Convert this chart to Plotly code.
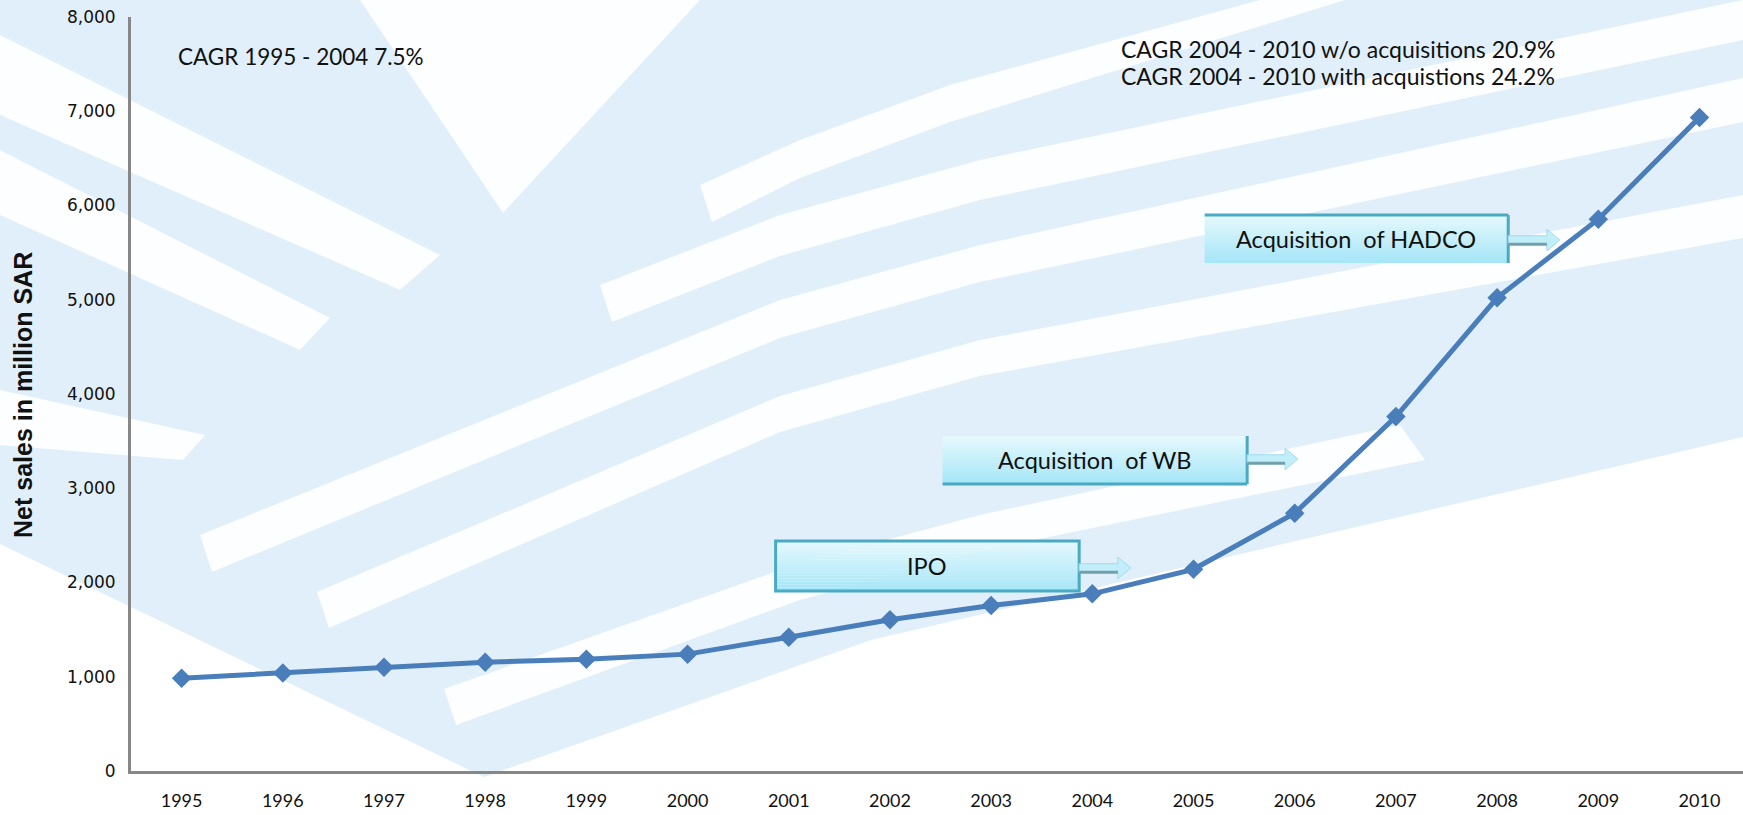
import plotly.graph_objects as go

# ---- data -------------------------------------------------------------
years = ["1995", "1996", "1997", "1998", "1999", "2000", "2001", "2002",
         "2003", "2004", "2005", "2006", "2007", "2008", "2009", "2010"]
net_sales = [985, 1040, 1100, 1155, 1185, 1240, 1420, 1605,
             1755, 1880, 2140, 2735, 3760, 5020, 5855, 6935]
y_ticks = [0, 1000, 2000, 3000, 4000, 5000, 6000, 7000, 8000]
y_tick_text = ["0", "1,000", "2,000", "3,000", "4,000", "5,000", "6,000", "7,000", "8,000"]

cagr_left = "CAGR 1995 - 2004 7.5%"
cagr_right = ["CAGR 2004 - 2010 w/o acquisitions 20.9%",
              "CAGR 2004 - 2010 with acquistions 24.2%"]

# callouts: label, box x-range (category index), box y-range (value), arrow tip (index, value)
callouts = [
    ("IPO", (5.87, 8.87), (1910, 2440), (9.38, 2154), "all"),
    ("Acquisition  of WB", (7.52, 10.53), (3045, 3554), (11.03, 3310), "rb"),
    ("Acquisition  of HADCO", (10.11, 13.11), (5390, 5899), (13.62, 5634), "tr"),
]

# ---- figure geometry ---------------------------------------------------
W, H = 1743, 815
ML, MR, MT, MB = 131, 0, 17, 44
PW, PH = W - ML - MR, H - MT - MB


def px(x, y):
    """pixel position -> paper coordinates"""
    return (x - ML) / PW, (H - MB - y) / PH


def poly(points):
    parts = []
    for i, (x, y) in enumerate(points):
        u, v = px(x, y)
        parts.append(("M" if i == 0 else "L") + f"{u:.5f},{v:.5f}")
    return " ".join(parts) + " Z"


fig = go.Figure()

shapes = []

# ---- watermark background ------------------------------------------------
BLUE = "#e0eff9"
WHITE = "#fcfeff"
shapes.append(dict(type="path", xref="paper", yref="paper", layer="below",
                   path=poly([(0, 0), (1743, 0), (1743, 437), (871, 640),
                              (484, 777), (131, 607), (0, 544)]),
                   fillcolor=BLUE, line=dict(width=0)))
white_bands = [
    [(360, 0), (700, 0), (503, 213)],
    [(0, 35), (0, 115), (400, 290), (440, 255)],
    [(0, 150), (0, 215), (300, 350), (330, 318)],
    [(0, 390), (0, 445), (183, 460), (205, 435)],
    [(700, 185), (800, 140), (950, 85), (1260, 0), (1345, 0), (950, 122), (800, 178), (712, 222)],
    [(600, 285), (780, 215), (980, 160), (1743, 0), (1743, 40), (980, 200), (780, 256), (612, 322)],
    [(200, 535), (780, 300), (980, 245), (1743, 78), (1743, 122), (980, 282), (780, 338), (212, 572)],
    [(317, 592), (780, 396), (980, 340), (1743, 195), (1743, 238), (980, 376), (780, 432), (329, 628)],
    [(444, 689), (800, 563), (980, 515), (1400, 425), (1425, 460), (980, 551), (800, 600), (456, 725)],
]
for b in white_bands:
    shapes.append(dict(type="path", xref="paper", yref="paper", layer="below",
                       path=poly(b), fillcolor=WHITE, line=dict(width=0)))

# ---- vertical divider at 2004 ---------------------------------------------
shapes.append(dict(type="line", xref="x", yref="paper", x0="2004", x1="2004",
                   y0=-0.006, y1=0.95, line=dict(color="#c3d6ec", width=1),
                   layer="below"))

# ---- callout boxes --------------------------------------------------------
TEAL = "#4aaac4"
ARROW_FILL = "#c2eef9"
ARROW_DARK = "#6fa0ac"
top_c = (0xe4, 0xf8, 0xfd)
bot_c = (0xa6, 0xe6, 0xf7)
n_strips = 16
annotations = []
for label, (bx0, bx1), (by0, by1), (tx, ty), border in callouts:
    for i in range(n_strips):
        f = i / (n_strips - 1)
        col = tuple(round(top_c[k] + (bot_c[k] - top_c[k]) * f) for k in range(3))
        ya = by1 - (by1 - by0) * i / n_strips
        yb = by1 - (by1 - by0) * (i + 1) / n_strips
        shapes.append(dict(type="rect", xref="x", yref="y", x0=bx0, x1=bx1,
                           y0=yb, y1=ya, fillcolor="rgb(%d,%d,%d)" % col,
                           line=dict(width=0)))
    edge = dict(color=TEAL, width=3)
    if border == "all":
        shapes.append(dict(type="rect", xref="x", yref="y", x0=bx0, x1=bx1,
                           y0=by0, y1=by1, line=edge, fillcolor="rgba(0,0,0,0)"))
    if border == "rb":
        shapes.append(dict(type="line", xref="x", yref="y", x0=bx1, x1=bx1, y0=by0, y1=by1, line=edge))
        shapes.append(dict(type="line", xref="x", yref="y", x0=bx0, x1=bx1, y0=by0, y1=by0, line=edge))
    if border == "tr":
        shapes.append(dict(type="line", xref="x", yref="y", x0=bx1, x1=bx1, y0=by0, y1=by1, line=edge))
        shapes.append(dict(type="line", xref="x", yref="y", x0=bx0, x1=bx1, y0=by1, y1=by1, line=edge))
    # block arrow pointing right
    span = tx - bx1
    hx = bx1 + span * 0.75
    sh, hh = 45, 115
    arrow = [(bx1, ty + sh), (hx, ty + sh), (hx, ty + hh), (tx, ty),
             (hx, ty - hh), (hx, ty - sh), (bx1, ty - sh)]
    path = " ".join(("M" if i == 0 else "L") + f"{a},{b}" for i, (a, b) in enumerate(arrow)) + " Z"
    shapes.append(dict(type="path", xref="x", yref="y", path=path,
                       fillcolor=ARROW_FILL, line=dict(color="#9fdcec", width=1)))
    shapes.append(dict(type="line", xref="x", yref="y", x0=bx1, x1=hx,
                       y0=ty - sh, y1=ty - sh, line=dict(color=ARROW_DARK, width=3)))
    annotations.append(dict(x=(bx0 + bx1) / 2, y=(by0 + by1) / 2, xref="x", yref="y",
                            xanchor="center", yanchor="middle",
                            text=label, showarrow=False,
                            font=dict(family="Lato", size=23.5, color="#111111")))

# ---- sales line -------------------------------------------------------------
fig.add_trace(go.Scatter(
    x=years, y=net_sales, mode="lines+markers",
    line=dict(color="#4a7ebb", width=5),
    marker=dict(symbol="diamond", size=15, color="#4a7ebb"),
    cliponaxis=False, hoverinfo="x+y",
))

# ---- texts --------------------------------------------------------------------
u, v = px(176, 57)
annotations.append(dict(x=u, y=v, xref="paper", yref="paper", xanchor="left",
                        yanchor="middle", text=cagr_left, showarrow=False,
                        font=dict(family="Lato", size=22.5, color="#111111")))
for i, t in enumerate(cagr_right):
    u, v = px(1119, 49 + 26.5 * i)
    annotations.append(dict(x=u, y=v, xref="paper", yref="paper", xanchor="left",
                            yanchor="middle", text=t, showarrow=False,
                            font=dict(family="Lato", size=23, color="#111111")))
u, v = px(23, 395)
annotations.append(dict(x=u, y=v, xref="paper", yref="paper", textangle=-90,
                        xanchor="center", yanchor="middle",
                        text="<b>Net sales in million SAR</b>", showarrow=False,
                        font=dict(family="Liberation Sans, Arial", size=25, color="#111111")))

fig.update_layout(
    width=W, height=H,
    margin=dict(l=ML, r=MR, t=MT, b=MB),
    paper_bgcolor="white", plot_bgcolor="rgba(0,0,0,0)",
    showlegend=False, template="none",
    shapes=shapes, annotations=annotations,
    xaxis=dict(type="category", categoryorder="array", categoryarray=years,
               range=[-0.5, 15.43], showgrid=False, zeroline=False,
               showline=True, linecolor="#878787", linewidth=3,
               ticks="outside", ticklen=11, tickcolor="rgba(0,0,0,0)",
               tickfont=dict(family="Lato", size=18, color="#111111")),
    yaxis=dict(range=[0, 8000], tickvals=y_ticks, ticktext=y_tick_text,
               showgrid=False, zeroline=False, showline=True,
               linecolor="#878787", linewidth=3,
               ticks="outside", ticklen=9, tickcolor="rgba(0,0,0,0)",
               tickfont=dict(family="DejaVu Sans", size=17, color="#111111")),
)

fig.write_html("out.html")
